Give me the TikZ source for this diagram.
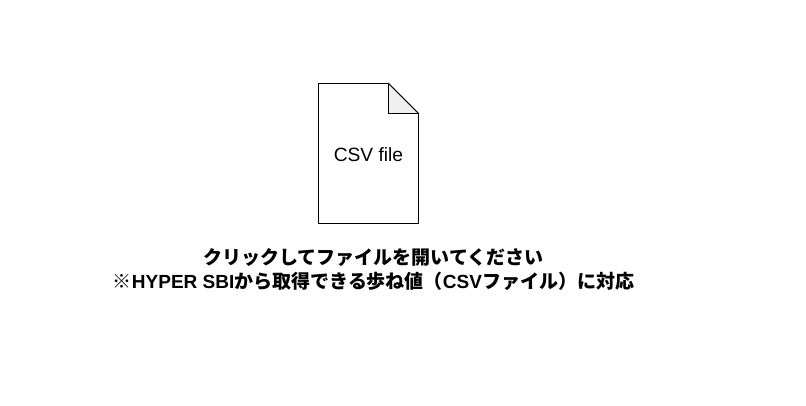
\documentclass[tikz,border=0pt]{standalone}
\usepackage{fontspec}
\setmainfont{Liberation Sans}
\newfontfamily\cjk{Noto Sans CJK JP}
\tikzset{
    doc line/.style={draw=black, line width=0.75pt},
    caption line/.style={font=\fontsize{19pt}{24pt}\selectfont\bfseries, align=center, inner sep=0pt},
}

\begin{document}
\begin{tikzpicture}[x=1pt, y=1pt]
\useasboundingbox (0,0) rectangle (806,406);
\fill[white] (0,0) rectangle (806,406);

\draw[doc line, fill=white] (318.5,322.5)--(388.5,322.5)--(418.5,292.5)--(418.5,182.5)--(318.5,182.5)--cycle;
\draw[doc line, fill=black!6] (388.5,322.5)--(418.5,292.5)--(388.5,292.5)--cycle;
\node[inner sep=0pt, font=\fontsize{19.2pt}{22pt}\selectfont] (csvfile) at (368.5,251.5) {CSV file};

\node[caption line] (caption) at (373.5,136) {{\cjk クリックしてファイルを開いてください}\\
{\cjk ※}HYPER SBI{\cjk から取得できる歩ね値（}CSV{\cjk ファイル）に対応}};
\end{tikzpicture}
\end{document}
